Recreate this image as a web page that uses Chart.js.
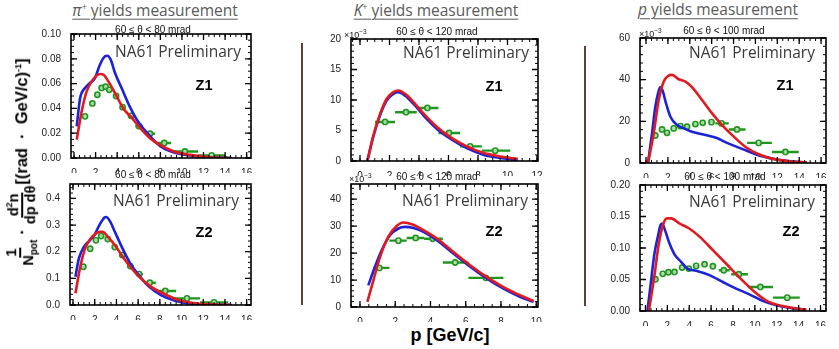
<!DOCTYPE html>
<html><head><meta charset="utf-8">
<script src="https://cdn.jsdelivr.net/npm/chart.js@4.4.1/dist/chart.umd.min.js"></script>
<style>
body{margin:0;width:839px;height:349px;background:#fff;position:relative;overflow:hidden;font-family:"Liberation Sans",Arial,sans-serif}
.t{position:absolute;white-space:nowrap;transform:translate(-50%,-50%);line-height:1}
.title{font-family:"Open Sans",sans-serif;font-size:15.5px;color:#5a5a5a;text-decoration:underline;text-decoration-thickness:1px;text-underline-offset:3px}
.sub{font-size:10px;color:#111}
.na{font-family:"Open Sans",sans-serif;font-size:15.5px;color:#3a3a3a;transform:translate(0,-50%)}
.z{font-weight:bold;font-size:14.5px;color:#000}
.e3{font-size:9px;color:#222;transform:translate(0,-50%)}
.e3 sup{font-size:6.5px}
.sep{position:absolute;width:1.5px;background:#5a4232}
canvas{position:absolute}
.ylab{position:absolute;left:22px;top:162px;transform:translate(-50%,-50%) rotate(-90deg);display:flex;align-items:center;font-weight:bold;color:#000;white-space:nowrap;font-size:16.5px}
.frac{display:inline-flex;flex-direction:column;align-items:center;font-size:14.5px;line-height:1.05}
.frac .num{border-bottom:2.5px solid #000;padding:0 1px}
.ylab sub{font-size:10px}
.ylab sup{font-size:9px}
</style>
</head><body>
<script>
// ---------- data ----------
// pi+ panel tick labels
const piXTicks=[0,2,4,6,8,10,12,14,16];
const piZ1YTicks=[0,0.02,0.04,0.06,0.08,0.10];
const piZ2YTicks=[0,0.1,0.2,0.3,0.4];
// K+ panel tick labels (y in units of 1e-3)
const kZ1XTicks=[0,2,4,6,8,10,12];
const kZ2XTicks=[0,2,4,6,8,10];
const kZ1YTicks=[0,5,10,15,20];
const kZ2YTicks=[0,10,20,30,40];
// p panel tick labels (Z1 y in units of 1e-3)
const pXTicks=[0,2,4,6,8,10,12,14,16];
const pZ1YTicks=[0,20,40,60];
const pZ2YTicks=[0,0.05,0.10,0.15,0.20];

// pi+ Z1
const piZ1BlueP=[0.25,0.56,1.02,1.48,1.94,2.4,2.87,3.1,3.4,3.8,4.41,5.19,5.96,6.9,7.96,9.2,10.74,12.6,14.6];
const piZ1BlueY=[0.0255,0.048,0.0565,0.0605,0.0645,0.0752,0.082,0.0825,0.0793,0.0685,0.0564,0.041,0.029,0.019,0.0098,0.0046,0.002,0.0006,0.0001];
const piZ1RedP=[0.25,0.71,1.17,1.64,2.1,2.47,2.72,3.18,3.8,4.57,5.34,6.1,7.04,7.96,9.2,10.74,12.6,14.3];
const piZ1RedY=[0.0148,0.0376,0.0537,0.0618,0.0666,0.0677,0.0672,0.0618,0.0524,0.040,0.0325,0.0245,0.016,0.0105,0.0055,0.0025,0.0006,0.0001];
const piZ1DataP=[1.02,1.7,2.16,2.56,2.93,3.27,3.9,4.5,5.28,6.0,7.04,8.36,10.28,12.75];
const piZ1DataY=[0.0336,0.044,0.051,0.0565,0.0575,0.055,0.050,0.041,0.034,0.0258,0.0196,0.0121,0.0053,0.0021];
const piZ1DataLo=[0.85,1.5,2.0,2.4,2.75,3.1,3.7,4.25,5.0,5.7,6.57,7.6,9.2,11.5];
const piZ1DataHi=[1.2,1.9,2.35,2.75,3.1,3.45,4.1,4.75,5.6,6.4,7.5,9.0,11.5,14.0];
// pi+ Z2
const piZ2BlueP=[0.22,0.54,1.0,1.48,1.96,2.43,2.9,3.05,3.44,3.85,4.48,5.27,6.06,7.0,8.1,9.4,10.9,12.8,14.6];
const piZ2BlueY=[0.106,0.175,0.218,0.24,0.262,0.30,0.328,0.33,0.312,0.275,0.219,0.156,0.112,0.069,0.037,0.016,0.005,0.0012,0.0001];
const piZ2RedP=[0.22,0.7,1.17,1.64,2.1,2.5,2.74,3.2,3.85,4.64,5.4,6.2,7.16,8.26,9.7,11.3,13.2,14.6];
const piZ2RedY=[0.044,0.15,0.218,0.25,0.268,0.275,0.275,0.256,0.225,0.177,0.137,0.102,0.069,0.044,0.019,0.0067,0.0012,0.0001];
const piZ2DataP=[0.95,1.58,2.11,2.59,3.2,3.84,4.54,5.27,6.09,7.07,8.5,10.5,13.0];
const piZ2DataY=[0.1436,0.211,0.2425,0.2587,0.2474,0.2174,0.1874,0.146,0.116,0.0837,0.0525,0.025,0.010];
const piZ2DataLo=[0.75,1.4,1.95,2.4,3.0,3.6,4.25,5.0,5.75,6.6,7.63,9.2,11.7];
const piZ2DataHi=[1.15,1.75,2.3,2.8,3.4,4.05,4.8,5.6,6.45,7.63,9.5,11.7,14.3];
// K+ Z1 (x1e-3)
const kZ1BlueP=[0.5,0.9,1.36,1.81,2.26,2.6,3.06,3.62,4.3,5.2,6.1,7.24,8.4,9.5,10.2,10.7];
const kZ1BlueY=[0,4.0,7.5,9.9,11.0,11.27,10.7,9.4,7.5,5.3,3.7,2.1,1.0,0.5,0.3,0.2];
const kZ1RedP=[0.5,0.9,1.36,1.81,2.26,2.6,3.06,3.62,4.3,5.2,6.1,7.24,8.4,9.5,10.2,10.7];
const kZ1RedY=[0,4.1,7.7,10.2,11.3,11.55,11.0,9.7,7.8,5.6,3.95,2.4,1.3,0.75,0.5,0.35];
const kZ1DataP=[1.7,3.12,4.57,6.04,7.47,9.17];
const kZ1DataY=[6.4,8.0,8.7,4.6,2.4,1.7];
const kZ1DataLo=[1.02,2.38,3.85,5.32,6.79,8.26];
const kZ1DataHi=[2.38,3.85,5.32,6.79,8.26,10.19];
// K+ Z2 (x1e-3)
const kZ2BlueP=[0.47,0.85,1.23,1.7,2.18,2.56,3.03,3.6,4.36,5.3,6.25,7.2,8.14,9.1,9.85];
const kZ2BlueY=[8.0,14.9,21,26.6,29.1,29.7,29.3,27.9,24.8,19.8,14.9,10.5,6.8,3.7,1.9];
const kZ2RedP=[0.42,0.76,1.14,1.6,2.08,2.46,2.94,3.6,4.36,5.3,6.25,7.2,8.14,9.1,9.85];
const kZ2RedY=[1.9,9.9,18.6,26,30,31.3,30.7,28.5,25.4,20.4,15.5,11.1,7.4,4.3,2.2];
const kZ2DataP=[1.1,2.18,3.16,4.13,5.4,7.14];
const kZ2DataY=[14.5,24.6,25.6,25.3,16.5,10.8];
const kZ2DataLo=[0.76,1.67,2.65,3.64,4.7,6.15];
const kZ2DataHi=[1.67,2.65,3.64,4.7,6.15,8.14];
// p Z1 (x1e-3)
const pZ1BlueP=[0.18,0.55,0.85,1.1,1.31,1.52,1.83,2.23,2.84,3.45,4.2,5.43,6.34,7.56,9.1,10.6,12.1,13.7,14.7];
const pZ1BlueY=[0,14.2,27,33.5,36.4,34.7,28.6,22.2,18.2,16.6,15,13.4,12.2,9.3,6.1,3.2,1.6,0.6,0.3];
const pZ1RedP=[0.18,0.7,1.16,1.62,2.0,2.38,2.99,3.6,4.2,5.12,6.04,6.95,7.87,9.1,10.3,11.5,13.05,14.7];
const pZ1RedY=[0,14.2,30.2,39.1,41.8,42.3,40.2,39.1,36.4,30.2,23.8,18.2,13.4,7.7,4.2,2.1,0.8,0.3];
const pZ1DataP=[0.85,1.46,1.92,2.53,3.14,3.75,4.51,5.18,5.98,6.9,8.32,10.3,12.74];
const pZ1DataY=[13.2,16.1,14.5,16.6,17.7,17.4,18.7,19.3,19.6,19.0,16.1,9.65,5.3];
const pZ1DataLo=[0.7,1.3,1.75,2.35,2.95,3.55,4.3,4.95,5.75,6.34,7.56,9.24,11.5];
const pZ1DataHi=[1.0,1.62,2.1,2.7,3.35,3.95,4.75,5.45,6.25,7.56,9.1,11.5,13.96];
// p Z2
const pZ2BlueP=[0.18,0.52,0.82,1.13,1.37,1.52,1.83,2.2,2.65,3.26,3.87,4.63,5.85,7.07,8.29,9.5,10.7,11.95,13.5,14.7];
const pZ2BlueY=[0,0.049,0.091,0.118,0.136,0.139,0.126,0.107,0.090,0.078,0.067,0.064,0.057,0.046,0.0355,0.0265,0.016,0.009,0.0042,0.002];
const pZ2RedP=[0.3,0.76,1.22,1.59,1.95,2.35,3.1,4.0,4.94,6.16,7.38,8.6,9.8,11.0,12.2,13.5,14.7];
const pZ2RedY=[0,0.049,0.107,0.136,0.147,0.147,0.139,0.131,0.118,0.0966,0.075,0.053,0.033,0.017,0.009,0.0048,0.002];
const pZ2DataP=[0.91,1.58,2.1,2.65,3.35,3.96,4.63,5.4,6.16,7.16,8.54,10.5,12.96];
const pZ2DataY=[0.0504,0.059,0.0615,0.062,0.069,0.0674,0.0716,0.0743,0.071,0.0647,0.0584,0.0382,0.0212];
const pZ2DataLo=[0.75,1.4,1.9,2.45,3.15,3.75,4.4,5.15,5.9,6.7,7.84,9.36,11.65];
const pZ2DataHi=[1.1,1.75,2.3,2.85,3.55,4.2,4.85,5.65,6.45,7.7,9.36,11.65,14.1];

// ---------- layout / style ----------
const RED='#e01a1e', BLUE='#1c22d8', GREEN='#20961e';
const panels=[
 {frame:[71,34,251,158], x:[-0.28,16.4], y:[0,0.10], xt:piXTicks, yt:piZ1YTicks, yd:2, xm:0.5, ym:0.005,
  red:[piZ1RedP,piZ1RedY], blue:[piZ1BlueP,piZ1BlueY], d:[piZ1DataP,piZ1DataY,piZ1DataLo,piZ1DataHi]},
 {frame:[70,184,251,305], x:[-0.28,16.4], y:[0,0.454], xt:piXTicks, yt:piZ2YTicks, yd:1, xm:0.5, ym:0.02,
  red:[piZ2RedP,piZ2RedY], blue:[piZ2BlueP,piZ2BlueY], d:[piZ2DataP,piZ2DataY,piZ2DataLo,piZ2DataHi]},
 {frame:[351,39,538,161], x:[-0.61,12.07], y:[0,20], xt:kZ1XTicks, yt:kZ1YTicks, yd:0, xm:0.5, ym:1,
  red:[kZ1RedP,kZ1RedY], blue:[kZ1BlueP,kZ1BlueY], d:[kZ1DataP,kZ1DataY,kZ1DataLo,kZ1DataHi]},
 {frame:[351,184,538,307], x:[-0.51,10.1], y:[0,45.6], xt:kZ2XTicks, yt:kZ2YTicks, yd:0, xm:0.5, ym:2,
  red:[kZ2RedP,kZ2RedY], blue:[kZ2BlueP,kZ2BlueY], d:[kZ2DataP,kZ2DataY,kZ2DataLo,kZ2DataHi]},
 {frame:[640,38,826,163], x:[-0.55,16.45], y:[0,60], xt:pXTicks, yt:pZ1YTicks, yd:0, xm:0.5, ym:4,
  red:[pZ1RedP,pZ1RedY], blue:[pZ1BlueP,pZ1BlueY], d:[pZ1DataP,pZ1DataY,pZ1DataLo,pZ1DataHi]},
 {frame:[640,185,826,311], x:[-0.5,16.5], y:[0,0.2], xt:pXTicks, yt:pZ2YTicks, yd:2, xm:0.5, ym:0.01,
  red:[pZ2RedP,pZ2RedY], blue:[pZ2BlueP,pZ2BlueY], d:[pZ2DataP,pZ2DataY,pZ2DataLo,pZ2DataHi]}
];

const pts=(xs,ys)=>xs.map((x,i)=>({x:x,y:ys[i]}));

const framePlugin={id:'frame',afterDraw(chart){
  const c=chart.ctx, a=chart.chartArea, sx=chart.scales.x, sy=chart.scales.y, cfg=chart.options.plugins.frame;
  c.save(); c.strokeStyle='#000'; c.lineWidth=1;
  const tick=(isX,v,len)=>{
    if(isX){const p=sx.getPixelForValue(v); if(p<a.left||p>a.right)return;
      c.moveTo(p,a.bottom);c.lineTo(p,a.bottom-len);c.moveTo(p,a.top);c.lineTo(p,a.top+len);}
    else{const p=sy.getPixelForValue(v); if(p<a.top-0.5||p>a.bottom+0.5)return;
      c.moveTo(a.left,p);c.lineTo(a.left+len,p);c.moveTo(a.right,p);c.lineTo(a.right-len,p);}
  };
  c.beginPath();
  const nx=Math.round((cfg.x[1]-cfg.x[0])/cfg.xm)+2, x0=Math.ceil(cfg.x[0]/cfg.xm);
  for(let k=x0;k<x0+nx;k++){const v=k*cfg.xm; tick(true,v,3);}
  const ny=Math.round((cfg.y[1]-cfg.y[0])/cfg.ym)+2;
  for(let k=0;k<ny;k++){tick(false,k*cfg.ym,3);}
  c.stroke();
  c.beginPath(); c.lineWidth=1.3;
  cfg.xt.forEach(v=>tick(true,v,6)); cfg.yt.forEach(v=>tick(false,v,6));
  c.stroke();
  c.lineWidth=1.6; c.strokeRect(a.left,a.top,a.right-a.left,a.bottom-a.top);
  c.restore();
}};
const errPlugin={id:'errbars',beforeDatasetDraw(chart,args){
  if(args.index!==2)return;
  const c=chart.ctx, sx=chart.scales.x, sy=chart.scales.y, d=chart.options.plugins.errbars.d;
  c.save(); c.strokeStyle=GREEN; c.lineWidth=2.4; c.lineCap='butt'; c.beginPath();
  d[0].forEach((x,i)=>{const py=sy.getPixelForValue(d[1][i]);
    c.moveTo(sx.getPixelForValue(d[2][i]),py); c.lineTo(sx.getPixelForValue(d[3][i]),py);});
  c.stroke(); c.restore();
}};

const YW=40, XH=15, PT=7, PR=12;
panels.forEach(cfg=>{
  const [l,t,r,b]=cfg.frame;
  const cv=document.createElement('canvas');
  const cw=(r-l)+YW+PR, ch=(b-t)+PT+XH;
  cv.width=cw; cv.height=ch; cv.style.width=cw+'px'; cv.style.height=ch+'px';
  cv.style.left=(l-YW)+'px'; cv.style.top=(t-PT)+'px';
  document.body.appendChild(cv);
  const tickFont={family:'"Liberation Sans", Arial, sans-serif',size:10};
  new Chart(cv,{type:'scatter',
    data:{datasets:[
      {data:pts(cfg.red[0],cfg.red[1]),showLine:true,borderColor:RED,borderWidth:2.6,pointRadius:0,cubicInterpolationMode:'monotone'},
      {data:pts(cfg.blue[0],cfg.blue[1]),showLine:true,borderColor:BLUE,borderWidth:2.6,pointRadius:0,cubicInterpolationMode:'monotone'},
      {data:pts(cfg.d[0],cfg.d[1]),showLine:false,pointRadius:2.6,pointBorderWidth:1.6,borderColor:GREEN,backgroundColor:'rgba(255,255,255,0.6)',pointBackgroundColor:'rgba(255,255,255,0.6)',pointBorderColor:GREEN}
    ]},
    options:{responsive:false,animation:false,events:[],
      layout:{padding:{top:PT,right:PR,left:0,bottom:0}},
      plugins:{legend:{display:false},tooltip:{enabled:false},frame:cfg,errbars:{d:cfg.d}},
      scales:{
        x:{type:'linear',min:cfg.x[0],max:cfg.x[1],grid:{display:false},border:{display:false},
          afterBuildTicks:s=>{s.ticks=cfg.xt.map(v=>({value:v}));},
          afterFit:s=>{s.height=XH;s.paddingLeft=0;s.paddingRight=0;},
          ticks:{autoSkip:false,maxRotation:0,minRotation:0,padding:1,color:'#222',font:tickFont,callback:v=>String(v)}},
        y:{type:'linear',min:cfg.y[0],max:cfg.y[1],grid:{display:false},border:{display:false},
          afterBuildTicks:s=>{s.ticks=cfg.yt.map(v=>({value:v}));},
          afterFit:s=>{s.width=YW;s.paddingTop=0;s.paddingBottom=0;},
          ticks:{autoSkip:false,padding:2,color:'#222',font:tickFont,callback:v=>Number(v).toFixed(cfg.yd)}}
      }},
    plugins:[framePlugin,errPlugin]});
});
</script>

<div class="sep" style="left:301px;top:43px;height:262px"></div>
<div class="sep" style="left:584px;top:46px;height:260px"></div>

<div class="t title" style="left:155px;top:10px"><i>π</i><sup style="font-size:9px">+</sup> yields measurement</div>
<div class="t title" style="left:436px;top:10px"><i>K</i><sup style="font-size:9px">+</sup> yields measurement</div>
<div class="t title" style="left:718px;top:10px"><i>p</i> yields measurement</div>

<div class="t sub" style="left:153px;top:30px">60 ≤ θ &lt; 80 mrad</div>
<div class="t sub" style="left:153px;top:175px">60 ≤ θ &lt; 80 mrad</div>
<div class="t sub" style="left:437px;top:32px">60 ≤ θ &lt; 120 mrad</div>
<div class="t sub" style="left:437px;top:177px">60 ≤ θ &lt; 120 mrad</div>
<div class="t sub" style="left:724px;top:31px">60 ≤ θ &lt; 100 mrad</div>
<div class="t sub" style="left:725px;top:177px">60 ≤ θ &lt; 100 mrad</div>

<div class="t e3" style="left:344px;top:34px">×10<sup>−3</sup></div>
<div class="t e3" style="left:349px;top:178px">×10<sup>−3</sup></div>
<div class="t e3" style="left:639px;top:33px">×10<sup>−3</sup></div>

<div class="t na" style="left:115px;top:52px">NA61 Preliminary</div>
<div class="t na" style="left:113px;top:201px">NA61 Preliminary</div>
<div class="t na" style="left:403px;top:53px">NA61 Preliminary</div>
<div class="t na" style="left:402px;top:201px">NA61 Preliminary</div>
<div class="t na" style="left:689px;top:53px">NA61 Preliminary</div>
<div class="t na" style="left:689px;top:202px">NA61 Preliminary</div>

<div class="t z" style="left:204px;top:85px">Z1</div>
<div class="t z" style="left:204px;top:232px">Z2</div>
<div class="t z" style="left:494px;top:86px">Z1</div>
<div class="t z" style="left:494px;top:231px">Z2</div>
<div class="t z" style="left:785px;top:85px">Z1</div>
<div class="t z" style="left:791px;top:231px">Z2</div>

<div class="t" style="left:450px;top:335px;font-weight:bold;font-size:18px;color:#000">p [GeV/c]</div>

<div class="ylab">
  <span class="frac"><span class="num">1</span><span>N<sub>pot</sub></span></span>
  <span style="margin:0 5px">·</span>
  <span class="frac"><span class="num">d<sup>2</sup>n</span><span>dp dθ</span></span>
  <span style="margin-left:1px">[(rad &nbsp;·&nbsp; GeV/c)<sup>-1</sup>]</span>
</div>
</body></html>
